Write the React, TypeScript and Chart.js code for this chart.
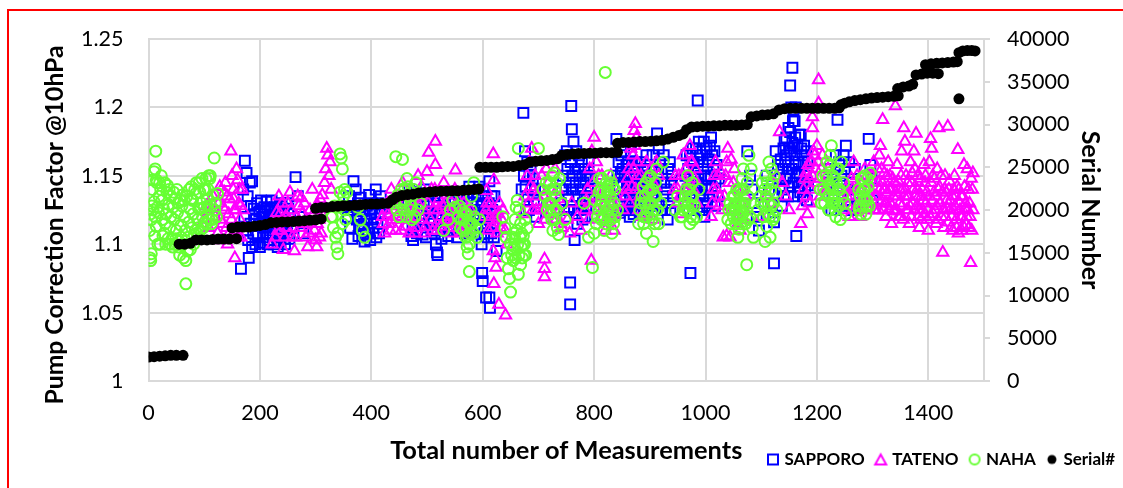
import React, { useEffect, useRef } from "react";
import { Chart, registerables } from "chart.js";

Chart.register(...registerables);

const sapporoPoints: number[][] = [
[166,1.082],[180,1.09],[173,1.161],[176,1.152],[170,1.14],[182,1.145],[186,1.146],[178,1.135],[184,1.128],[190,1.122],[195,1.13],[198,1.115],[188,1.108],[192,1.1],[200,1.098],[204,1.12],[208,1.127],[212,1.131],[216,1.118],[220,1.126],[206,1.105],[210,1.112],[214,1.1],[218,1.108],[224,1.121],[228,1.112],[232,1.098],[236,1.128],[240,1.118],[244,1.104],[248,1.13],[252,1.122],[256,1.112],[264,1.149],[268,1.135],[272,1.12],[278,1.108],
[360,1.135],[364,1.125],[368,1.146],[372,1.14],[376,1.13],[380,1.12],[384,1.11],[388,1.102],[392,1.128],[396,1.136],[400,1.118],[404,1.108],[408,1.14],[412,1.13],[416,1.122],[420,1.115],[390,1.107],[398,1.103],[378,1.114],
[466,1.13],[470,1.12],[474,1.112],[475,1.103],[480,1.138],[484,1.126],[488,1.115],[492,1.107],[496,1.14],[500,1.128],[504,1.118],[508,1.11],[512,1.13],[516,1.1],[519,1.092],[518,1.094],[524,1.122],[528,1.11],[532,1.135],[536,1.126],[540,1.112],[546,1.138],[550,1.13],[556,1.12],[560,1.11],[566,1.135],[570,1.125],[576,1.142],[580,1.13],[584,1.118],[590,1.128],[594,1.142],[598,1.1],[600,1.13],[604,1.12],[608,1.112],[612,1.146],[616,1.135],[599,1.079],[600,1.073],[606,1.061],[612,1.061],[613,1.0535],[620,1.105],[625,1.095],
[670,1.14],[673,1.196],[676,1.168],[680,1.16],[684,1.15],[688,1.14],[692,1.132],[678,1.125],[696,1.12],
[740,1.13],[744,1.15],[748,1.165],[752,1.155],[756,1.145],[759,1.201],[760,1.184],[763,1.175],[757,1.072],[757,1.056],[765,1.103],[768,1.168],[772,1.155],[776,1.14],[780,1.13],[784,1.12],[764,1.125],[770,1.115],[750,1.12],[788,1.15],[792,1.135],
[840,1.177],[844,1.16],[848,1.152],[852,1.145],[856,1.135],[860,1.128],[864,1.12],[868,1.16],[872,1.15],[876,1.14],[880,1.13],[884,1.122],[846,1.123],[858,1.158],[888,1.155],[892,1.145],[896,1.135],[900,1.128],
[905,1.165],[910,1.155],[913,1.181],[916,1.17],[920,1.145],[924,1.135],[928,1.125],[932,1.118],[936,1.16],[940,1.15],
[964,1.15],[968,1.14],[973,1.079],[972,1.165],[976,1.16],[980,1.152],[984,1.144],[986,1.205],[988,1.175],[990,1.136],[994,1.125],[998,1.12],[1002,1.17],[1006,1.162],[1010,1.178],[1014,1.155],[1018,1.145],[1022,1.135],[1000,1.13],[985,1.165],[1005,1.148],
[1075,1.168],[1080,1.15],[1084,1.14],[1088,1.13],[1092,1.12],[1096,1.11],
[1110,1.15],[1114,1.14],[1118,1.13],[1122,1.12],[1123,1.116],[1123,1.086],[1126,1.168],[1130,1.158],[1134,1.148],[1138,1.14],[1142,1.176],[1146,1.165],[1150,1.155],[1152,1.216],[1156,1.229],[1154,1.2],[1158,1.198],[1162,1.2],[1160,1.19],[1163,1.106],[1152,1.182],[1156,1.174],[1160,1.165],[1164,1.152],[1168,1.18],[1172,1.17],[1176,1.16],[1180,1.15],[1184,1.143],[1148,1.135],[1144,1.148],[1170,1.138],[1150,1.17],[1158,1.145],
[1222,1.145],[1228,1.135],[1232,1.125],[1237,1.191],[1240,1.16],[1244,1.15],[1248,1.165],[1252,1.172],[1256,1.14],[1260,1.135],[1264,1.125],[1268,1.155],[1276,1.13],
[1293,1.177],[1296,1.158],[1298,1.148],[1300,1.132]
];

const sapporoDense: number[][] = [
[172,1.12],[175,1.11],[179,1.103],[183,1.115],[186,1.098],[189,1.126],[193,1.118],[196,1.106],[199,1.124],[202,1.132],[205,1.116],[207,1.101],[209,1.122],[211,1.107],[213,1.126],[215,1.113],[217,1.103],[219,1.121],[221,1.132],[223,1.108],[225,1.1],[227,1.127],[229,1.117],[231,1.105],[233,1.124],[235,1.112],[237,1.102],[239,1.13],[241,1.11],[243,1.122],[245,1.1],[247,1.116],[249,1.108],[251,1.126],[253,1.104],
[358,1.12],[362,1.112],[366,1.104],[370,1.128],[374,1.118],[377,1.106],[381,1.134],[385,1.124],[387,1.115],[391,1.118],[394,1.108],[397,1.126],[401,1.13],[403,1.112],[406,1.122],[409,1.105],[411,1.116],[414,1.108],[417,1.135],[419,1.126],
[468,1.14],[472,1.106],[477,1.125],[479,1.115],[482,1.108],[486,1.135],[490,1.125],[494,1.118],[498,1.105],[502,1.136],[506,1.124],[510,1.115],[514,1.108],[520,1.128],[522,1.114],[526,1.104],[530,1.125],[534,1.116],[538,1.106],[542,1.13],[544,1.12],[548,1.11],[552,1.124],[554,1.105],[558,1.135],[562,1.125],[564,1.115],[568,1.108],[572,1.135],[574,1.118],[578,1.108],[582,1.138],[586,1.125],[588,1.112],[592,1.136],[595,1.122],[597,1.112],[601,1.14],[603,1.108],[605,1.135],[607,1.125],[609,1.105],[611,1.13],[613,1.118],[615,1.108],[617,1.125],[619,1.115],[621,1.135],[623,1.122],
[674,1.15],[677,1.142],[681,1.135],[683,1.125],[686,1.158],[690,1.148],[694,1.14],[698,1.13],
[742,1.14],[746,1.125],[749,1.14],[751,1.168],[754,1.135],[755,1.125],[758,1.16],[761,1.15],[762,1.14],[766,1.155],[767,1.145],[769,1.135],[771,1.125],[773,1.165],[774,1.15],[777,1.128],[778,1.16],[779,1.118],[781,1.145],[782,1.155],[783,1.135],[785,1.15],[786,1.128],[789,1.14],[790,1.16],[794,1.148],
[842,1.15],[845,1.142],[847,1.132],[849,1.165],[850,1.125],[851,1.155],[853,1.135],[854,1.168],[855,1.15],[857,1.125],[859,1.145],[861,1.16],[862,1.14],[863,1.15],[865,1.132],[866,1.168],[867,1.145],[869,1.13],[870,1.14],[871,1.122],[873,1.16],[874,1.132],[875,1.15],[877,1.125],[878,1.155],[879,1.14],[881,1.15],[882,1.13],[883,1.16],[885,1.14],[886,1.148],[887,1.13],[889,1.14],[890,1.125],[891,1.155],[893,1.13],[894,1.165],[895,1.145],[897,1.125],[898,1.15],[899,1.14],
[902,1.15],[904,1.135],[906,1.145],[908,1.125],[911,1.14],[912,1.13],[914,1.15],[918,1.16],[921,1.155],[922,1.125],[925,1.165],[926,1.145],[930,1.14],[933,1.155],[934,1.13],[937,1.125],[938,1.145],[942,1.135],
[962,1.135],[966,1.165],[969,1.155],[970,1.125],[974,1.145],[975,1.135],[977,1.17],[978,1.125],[979,1.16],[981,1.14],[982,1.13],[983,1.17],[986,1.155],[987,1.145],[989,1.125],[991,1.165],[992,1.15],[993,1.14],[995,1.16],[996,1.135],[997,1.175],[999,1.15],[1001,1.14],[1003,1.128],[1004,1.16],[1007,1.135],[1008,1.172],[1009,1.15],[1011,1.142],[1012,1.165],[1013,1.135],[1016,1.168],[1017,1.128],[1020,1.158],[1024,1.148],
[1135,1.162],[1137,1.128],[1139,1.155],[1140,1.17],[1141,1.135],[1143,1.16],[1145,1.178],[1147,1.15],[1149,1.185],[1151,1.142],[1153,1.168],[1155,1.155],[1157,1.19],[1159,1.135],[1161,1.178],[1162,1.158],[1165,1.172],[1166,1.142],[1167,1.16],[1169,1.15],[1171,1.18],[1173,1.145],[1174,1.165],[1175,1.135],[1177,1.172],[1178,1.15],[1179,1.14],[1181,1.168],[1182,1.132],[1183,1.16],
[1224,1.155],[1226,1.125],[1230,1.15],[1234,1.165],[1236,1.14],[1238,1.13],[1242,1.145],[1246,1.135],[1250,1.155],[1254,1.128],[1258,1.16],[1262,1.145]
];

const tatenoPoints: number[][] = [
[100,1.118],[104,1.128],[108,1.112],[112,1.126],[116,1.135],[120,1.12],[124,1.108],[126,1.13],[128,1.142],[130,1.118],[132,1.103],[134,1.127],[136,1.138],[138,1.145],[140,1.112],[142,1.1],[144,1.122],[146,1.133],[148,1.168],[150,1.15],[152,1.14],[154,1.125],[155,1.09],[156,1.11],[158,1.155],[160,1.147],[162,1.13],[164,1.118],[166,1.105],[168,1.14],[170,1.125],
[222,1.1],[226,1.115],[230,1.123],[234,1.135],[238,1.11],[242,1.096],[246,1.12],[250,1.13],[254,1.138],[258,1.105],[262,1.095],[266,1.12],[270,1.128],[274,1.134],[278,1.115],[282,1.105],[286,1.098],[290,1.125],[294,1.14],[298,1.11],[302,1.098],[304,1.128],[306,1.118],[310,1.108],[312,1.136],[316,1.145],[318,1.155],[320,1.17],[322,1.165],[324,1.15],[326,1.16],[314,1.12],[328,1.14],[308,1.133],[300,1.103],
[420,1.12],[424,1.108],[428,1.13],[432,1.115],[436,1.14],[440,1.125],[444,1.11],[448,1.135],[452,1.118],[456,1.145],[460,1.13],[464,1.12],[468,1.108],[472,1.14],[476,1.125],[480,1.112],[484,1.15],[488,1.135],[492,1.118],[496,1.108],[500,1.153],[503,1.167],[508,1.14],[512,1.125],[515,1.175],[515,1.158],[518,1.11],[522,1.133],[526,1.12],[530,1.145],[534,1.13],[538,1.115],[542,1.108],[546,1.125],[551,1.154],[550,1.14],[554,1.128],[558,1.118],[562,1.108],[566,1.13],[570,1.12],[574,1.11],[578,1.125],
[604,1.12],[607,1.139],[610,1.11],[614,1.13],[619,1.166],[620,1.147],[622,1.12],[626,1.108],[630,1.13],[619,1.095],[622,1.09],[624,1.083],[620,1.071],[629,1.056],[641,1.048],[634,1.118],[640,1.11],[644,1.1],
[672,1.122],[676,1.135],[680,1.15],[684,1.16],[688,1.17],[692,1.14],[696,1.125],[700,1.115],[711,1.089],[711,1.082],[711,1.076],[704,1.14],[708,1.125],[714,1.155],[718,1.145],[722,1.13],[726,1.118],[730,1.155],[734,1.14],[738,1.125],[742,1.112],
[752,1.118],[756,1.108],[760,1.13],[770,1.12],[776,1.11],[784,1.125],[788,1.14],[792,1.155],[795,1.088],[796,1.168],[800,1.178],[804,1.16],[808,1.15],[812,1.135],[816,1.12],[820,1.11],[824,1.145],[828,1.13],[832,1.12],[836,1.11],[840,1.135],
[852,1.125],[858,1.14],[862,1.155],[866,1.17],[870,1.165],[874,1.188],[872,1.183],[876,1.178],[878,1.15],[882,1.135],[886,1.12],[890,1.145],[894,1.16],[900,1.13],[905,1.118],[910,1.142],[916,1.15],
[944,1.14],[948,1.13],[952,1.15],[956,1.122],[960,1.165],[964,1.155],[968,1.14],[972,1.172],[976,1.16],[980,1.148],[984,1.13],
[1010,1.12],[1014,1.14],[1018,1.16],[1022,1.15],[1026,1.135],[1032,1.105],[1038,1.106],[1044,1.105],[1030,1.125],[1036,1.15],[1040,1.17],[1046,1.162],[1050,1.145],[1054,1.13],[1058,1.115],[1062,1.11],[1066,1.14],[1070,1.125],
[1100,1.12],[1110,1.135],[1120,1.13],[1128,1.15],[1133,1.182],[1138,1.145],[1144,1.135],[1150,1.125],[1171,1.115],[1176,1.14],[1180,1.152],[1183,1.122],[1187,1.13],[1186,1.148],[1190,1.16],[1192,1.193],[1192,1.185],[1194,1.168],[1198,1.155],[1200,1.172],[1203,1.22],[1203,1.203],[1205,1.148],[1210,1.165],[1215,1.135],[1220,1.155],
[1250,1.125],[1254,1.135],[1258,1.12],[1262,1.148],[1266,1.16],[1270,1.14],[1274,1.13],[1278,1.12],[1282,1.145],[1286,1.155],
[1290,1.13],[1294,1.14],[1298,1.15],[1302,1.16],[1304,1.135],[1306,1.125],[1310,1.145],[1312,1.165],[1314,1.172],[1316,1.155],[1318,1.191],[1320,1.14],[1322,1.13],[1324,1.12],[1326,1.15],[1328,1.16],[1330,1.14],[1332,1.13],[1334,1.115],[1336,1.148],[1338,1.124],[1341,1.201],[1342,1.138],[1344,1.158],[1346,1.146],[1348,1.13],[1350,1.12],[1352,1.168],[1354,1.14],[1356,1.185],[1358,1.175],[1360,1.15],[1362,1.135],[1364,1.125],[1366,1.115],[1368,1.16],[1370,1.145],[1372,1.13],[1374,1.168],[1376,1.155],[1378,1.181],[1380,1.14],[1382,1.12],[1384,1.112],[1386,1.148],[1388,1.135],[1390,1.125],[1392,1.158],[1394,1.145],[1396,1.13],[1398,1.118],[1400,1.11],[1402,1.16],[1404,1.177],[1406,1.17],[1408,1.15],[1410,1.138],[1412,1.125],[1414,1.115],[1416,1.155],[1419,1.185],[1420,1.142],[1422,1.13],[1424,1.12],[1426,1.094],[1428,1.112],[1430,1.15],[1432,1.138],[1435,1.186],[1434,1.126],[1436,1.116],[1438,1.146],[1440,1.132],[1442,1.12],[1444,1.11],[1446,1.14],[1448,1.128],[1450,1.118],[1453,1.169],[1452,1.142],[1454,1.108],[1456,1.13],[1458,1.12],[1460,1.11],[1462,1.135],[1464,1.158],[1466,1.126],[1468,1.114],[1470,1.155],[1472,1.14],[1474,1.13],[1476,1.0865],[1475,1.12],[1477,1.148],[1478,1.11],[1480,1.152],[1480,1.125]
];

const tatenoDense: number[][] = [
[133,1.115],[137,1.125],[141,1.135],[145,1.108],[149,1.118],[153,1.133],[157,1.125],[161,1.105],[163,1.14],[165,1.128],
[228,1.105],[232,1.11],[236,1.122],[240,1.13],[244,1.105],[248,1.112],[252,1.118],[256,1.125],[260,1.112],[264,1.105],[268,1.135],[272,1.112],[276,1.122],[280,1.13],[284,1.118],[288,1.108],[292,1.115],[296,1.122],[303,1.115],[307,1.105],
[422,1.115],[426,1.125],[430,1.122],[434,1.11],[438,1.118],[442,1.132],[446,1.12],[450,1.128],[454,1.11],[458,1.122],[462,1.113],[466,1.128],[470,1.118],[474,1.132],[478,1.108],[482,1.12],[486,1.128],[490,1.142],[494,1.125],[498,1.113],[502,1.13],[506,1.118],[510,1.11],[514,1.14],[520,1.125],[524,1.113],[528,1.128],[532,1.118],[536,1.136],[540,1.125],[544,1.115],[548,1.112],[552,1.118],[556,1.132],[560,1.124],[564,1.116],[568,1.11],[572,1.125],[576,1.115],
[606,1.125],[608,1.13],[612,1.118],[616,1.125],[618,1.112],[624,1.116],[628,1.122],[632,1.112],[636,1.125],
[682,1.13],[686,1.142],[690,1.125],[694,1.15],[698,1.135],[702,1.125],[706,1.15],[710,1.135],[712,1.118],[716,1.13],[720,1.122],[724,1.14],[728,1.128],[732,1.118],[736,1.133],[740,1.115],
[786,1.132],[790,1.118],[794,1.13],[798,1.145],[802,1.135],[806,1.125],[810,1.14],[814,1.15],[818,1.128],[822,1.118],[826,1.138],[830,1.15],[834,1.13],[838,1.122],
[856,1.135],[860,1.148],[864,1.13],[868,1.142],[871,1.155],[873,1.172],[875,1.14],[877,1.16],[880,1.125],[884,1.15],[888,1.135],[892,1.122],[896,1.148],[898,1.14],[902,1.155],[906,1.13],[912,1.16],
[946,1.15],[950,1.14],[954,1.135],[958,1.15],[962,1.14],[966,1.13],[970,1.15],[974,1.16],[978,1.14],[982,1.155],
[1012,1.13],[1016,1.15],[1020,1.14],[1024,1.128],[1028,1.152],[1034,1.135],[1038,1.16],[1042,1.145],[1048,1.125],[1052,1.155],[1056,1.14],[1060,1.12],[1064,1.13],[1068,1.118],[1072,1.135],
[1174,1.128],[1178,1.148],[1182,1.135],[1184,1.158],[1188,1.14],[1192,1.15],[1196,1.165],[1199,1.145],[1202,1.16],[1206,1.135],[1208,1.155],[1212,1.145],[1218,1.14],
[1252,1.14],[1256,1.128],[1260,1.135],[1264,1.14],[1268,1.125],[1272,1.15],[1276,1.14],[1280,1.13],
[1292,1.125],[1296,1.135],[1300,1.145],[1303,1.125],[1307,1.135],[1309,1.155],[1311,1.125],[1313,1.14],[1315,1.132],[1317,1.145],[1319,1.125],[1321,1.152],[1323,1.14],[1325,1.13],[1327,1.138],[1329,1.125],[1331,1.15],[1333,1.14],[1335,1.128],[1337,1.135],[1339,1.145],[1343,1.125],[1345,1.135],[1347,1.12],[1349,1.14],[1351,1.15],[1353,1.128],[1355,1.118],[1357,1.135],[1359,1.14],[1361,1.125],[1363,1.145],[1365,1.135],[1367,1.128],[1369,1.12],[1371,1.152],[1373,1.14],[1375,1.125],[1377,1.135],[1379,1.128],[1381,1.15],[1383,1.135],[1385,1.125],[1387,1.118],[1389,1.14],[1391,1.132],[1393,1.122],[1395,1.15],[1397,1.138],[1399,1.125],[1401,1.135],[1403,1.12],[1405,1.145],[1407,1.132],[1409,1.122],[1411,1.148],[1413,1.135],[1415,1.128],[1417,1.118],[1418,1.14],[1421,1.13],[1423,1.15],[1425,1.138],[1427,1.125],[1429,1.14],[1431,1.12],[1433,1.132],[1437,1.14],[1439,1.125],[1441,1.112],[1443,1.135],[1445,1.125],[1447,1.15],[1449,1.135],[1451,1.112],[1455,1.14],[1457,1.125],[1459,1.135],[1461,1.12],[1463,1.113],[1465,1.142],[1467,1.13],[1469,1.12],[1471,1.125],[1473,1.112],[1479,1.14]
];

const nahaPoints: number[][] = [
[3,1.09],[4,1.088],[5,1.093],[2,1.11],[3,1.122],[6,1.128],[5,1.118],[8,1.125],[8,1.147],[10,1.153],[13,1.168],[12,1.155],[14,1.147],[15,1.145],[10,1.131],[12,1.12],[14,1.113],[16,1.127],[18,1.123],[19,1.135],[22,1.14],[24,1.132],[25,1.118],[27,1.126],[28,1.108],[30,1.115],[32,1.122],[33,1.138],[36,1.129],[38,1.112],[40,1.12],[42,1.104],[44,1.127],[46,1.118],[48,1.133],[50,1.11],[52,1.123],[54,1.098],[56,1.092],[58,1.114],[60,1.128],[62,1.1],[64,1.132],[65,1.12],[67,1.088],[67,1.071],[70,1.095],[72,1.116],[74,1.126],[76,1.133],[78,1.112],[80,1.122],[82,1.107],[85,1.137],[88,1.118],[90,1.126],[92,1.138],[95,1.13],[97,1.12],[100,1.127],[102,1.14],[105,1.133],[108,1.15],[110,1.148],[112,1.128],[114,1.118],[116,1.136],[118,1.163],[119,1.125],[120,1.13],[122,1.12],[124,1.137],
[328,1.12],[332,1.112],[336,1.105],[338,1.098],[340,1.093],[342,1.127],[344,1.166],[346,1.163],[348,1.155],[350,1.135],[352,1.125],[354,1.118],[356,1.138],[340,1.108],[346,1.128],[384,1.11],[380,1.118],[388,1.105],[376,1.127],
[440,1.13],[444,1.164],[446,1.125],[450,1.12],[456,1.162],[460,1.14],[464,1.148],[468,1.135],[472,1.128],[448,1.136],[476,1.14],[480,1.145],[484,1.125],[488,1.13],[478,1.12],
[530,1.11],[538,1.118],[542,1.125],[546,1.132],[550,1.127],[556,1.12],[558,1.128],[562,1.118],[565,1.11],[567,1.123],[570,1.105],[572,1.098],[574,1.093],[576,1.1],[578,1.115],[580,1.135],[584,1.145],[576,1.08],
[636,1.12],[640,1.112],[642,1.105],[644,1.09],[646,1.082],[648,1.075],[650,1.065],[654,1.096],[656,1.108],[658,1.118],[660,1.127],[662,1.132],[664,1.17],[666,1.125],[668,1.115],[670,1.108],[672,1.1],[674,1.092],[668,1.085],[664,1.078],[676,1.118],[680,1.112],[658,1.104],[655,1.088],
[700,1.17],[708,1.14],[712,1.135],[716,1.125],[720,1.145],[722,1.13],[724,1.118],[726,1.11],[728,1.152],[730,1.14],[732,1.125],[734,1.112],[736,1.107],[738,1.148],[742,1.13],[748,1.118],
[782,1.13],[790,1.105],[797,1.083],[800,1.108],[804,1.115],[808,1.125],[810,1.148],[812,1.14],[814,1.132],[816,1.12],[818,1.11],[820,1.2256],[822,1.145],[824,1.138],[826,1.15],[828,1.128],[830,1.118],[832,1.108],[834,1.142],[836,1.13],[838,1.12],[842,1.125],
[880,1.115],[884,1.13],[888,1.142],[890,1.12],[892,1.135],[894,1.108],[896,1.125],[898,1.148],[900,1.14],[902,1.13],[904,1.118],[906,1.102],[908,1.135],[910,1.145],[912,1.155],[914,1.125],[916,1.115],[920,1.13],[924,1.16],
[958,1.12],[962,1.13],[966,1.14],[968,1.15],[970,1.125],[972,1.115],[974,1.135],[976,1.145],[978,1.118],[980,1.128],[984,1.12],[988,1.14],
[1040,1.118],[1044,1.13],[1048,1.125],[1050,1.12],[1052,1.135],[1054,1.115],[1056,1.14],[1058,1.105],[1060,1.13],[1062,1.12],[1064,1.14],[1066,1.148],[1068,1.155],[1070,1.128],[1072,1.115],[1074,1.085],[1076,1.135],[1078,1.165],[1080,1.12],[1082,1.155],[1084,1.112],[1086,1.105],[1060,1.111],
[1100,1.13],[1104,1.12],[1106,1.14],[1108,1.15],[1110,1.113],[1112,1.122],[1114,1.16],[1116,1.105],[1118,1.155],[1120,1.145],[1122,1.13],[1124,1.12],[1126,1.138],[1128,1.125],[1107,1.102],
[1208,1.13],[1212,1.14],[1216,1.15],[1218,1.16],[1220,1.135],[1222,1.125],[1224,1.165],[1226,1.172],[1228,1.14],[1230,1.13],[1232,1.148],[1234,1.12],[1236,1.155],[1238,1.14],[1240,1.128],[1242,1.118],[1244,1.16],[1246,1.135],[1248,1.145],[1250,1.13],[1252,1.122],
[1276,1.125],[1278,1.135],[1280,1.148],[1282,1.128],[1284,1.14],[1286,1.15],[1288,1.122],[1290,1.132],[1292,1.142],[1294,1.128],[1296,1.152]
];

const nahaDense: number[][] = [
[7,1.14],[11,1.106],[17,1.1],[20,1.145],[21,1.1],[23,1.15],[26,1.106],[29,1.145],[31,1.1],[34,1.143],[35,1.104],[37,1.14],[39,1.1],[41,1.135],[43,1.098],[45,1.138],[47,1.1],[49,1.104],[51,1.14],[53,1.13],[55,1.102],[57,1.132],[59,1.105],[61,1.136],[63,1.09],[66,1.11],[69,1.135],[71,1.105],[73,1.14],[75,1.096],[77,1.142],[79,1.132],[81,1.1],[83,1.14],[84,1.11],[86,1.145],[87,1.108],[89,1.112],[91,1.145],[93,1.11],[94,1.126],[96,1.148],[98,1.112],[99,1.14],[101,1.116],[103,1.148],[104,1.115],[106,1.128],[107,1.14],[109,1.118],[111,1.15],[113,1.115],
[452,1.13],[454,1.14],[458,1.125],[461,1.132],[463,1.12],[466,1.142],[470,1.125],[473,1.118],[330,1.12],[334,1.128],[344,1.138],[348,1.115],[352,1.14],
[560,1.112],[563,1.125],[566,1.118],[569,1.112],[571,1.122],[573,1.106],[575,1.115],[577,1.108],[579,1.125],[581,1.115],[583,1.108],[585,1.12],[588,1.112],[590,1.105],[594,1.118],
[650,1.1],[652,1.092],[654,1.105],[657,1.098],[659,1.09],[661,1.11],[663,1.1],[665,1.092],[667,1.105],[669,1.098],[671,1.09],[673,1.106],[675,1.1],[677,1.092],
[714,1.145],[718,1.13],[721,1.122],[723,1.14],[725,1.15],[727,1.125],[729,1.118],[731,1.135],[733,1.145],
[802,1.132],[806,1.12],[809,1.138],[811,1.128],[813,1.118],[815,1.148],[817,1.138],[819,1.128],[821,1.115],[823,1.125],[825,1.14],[827,1.12],[829,1.135],[831,1.145],[833,1.125],[835,1.115],[837,1.14],
[882,1.125],[886,1.135],[889,1.115],[891,1.13],[893,1.145],[895,1.12],[897,1.138],[899,1.13],[901,1.15],[903,1.122],[905,1.14],[907,1.125],[909,1.115],[911,1.135],[913,1.125],
[945,1.125],[950,1.135],[955,1.12],[960,1.125],[964,1.135],[967,1.125],[969,1.13],[971,1.14],[973,1.12],[975,1.128],[977,1.135],
[1042,1.125],[1046,1.115],[1049,1.135],[1051,1.128],[1053,1.125],[1055,1.13],[1057,1.118],[1059,1.138],[1061,1.125],[1063,1.115],[1065,1.13],[1067,1.122],[1069,1.14],[1071,1.13],[1073,1.125],[1075,1.145],[1077,1.118],
[1094,1.125],[1098,1.135],[1102,1.145],[1105,1.128],[1109,1.135],[1111,1.145],[1113,1.13],[1115,1.12],[1117,1.14],[1119,1.128],[1121,1.118],[1123,1.15],
[1206,1.14],[1210,1.15],[1214,1.13],[1216,1.138],[1219,1.148],[1221,1.125],[1223,1.158],[1225,1.142],[1227,1.13],[1229,1.15],[1231,1.135],[1233,1.125],[1235,1.145],[1237,1.13],[1239,1.155],[1241,1.14],
[1275,1.14],[1277,1.128],[1279,1.122],[1281,1.138],[1283,1.148],[1285,1.132],[1287,1.14],[1289,1.128],[1291,1.148]
];

const serialPoints: number[][] = [
[0,2800],[10,2850],[20,2900],[30,2950],[40,3000],[50,3000],[62,3000],
[55,16000],[65,16000],[75,16100],[85,16500],[95,16500],[105,16500],[115,16550],[125,16600],[135,16600],[145,16600],[158,16650],
[150,17900],[160,18000],[170,18000],[180,18000],[190,18100],[200,18200],[210,18300],[220,18500],[230,18550],[240,18600],[250,18600],[260,18650],[270,18700],[280,18750],[290,18800],[300,18850],[310,18950],
[300,20200],[310,20300],[320,20300],[330,20400],[340,20450],[350,20500],[360,20500],[370,20550],[380,20600],[390,20650],[400,20700],[410,20700],[420,20750],[430,20800],
[438,21200],[445,21500],[455,21700],[465,21800],[475,21850],[485,22000],[495,22050],[505,22100],[515,22150],[525,22200],[535,22200],[545,22250],[555,22250],[565,22300],[575,22350],[585,22400],[593,22450],
[595,25000],[605,25000],[615,25000],[625,25000],[635,25050],[645,25100],[655,25100],[665,25200],[675,25300],[685,25600],[695,25700],[705,25750],[715,25800],[725,25900],[735,26000],[742,26400],[752,26500],[762,26550],[772,26600],[782,26600],[792,26650],[802,26650],[812,26700],[822,26700],[832,26700],[842,26750],
[842,27800],[852,27900],[862,27900],[872,27950],[882,28000],[892,28000],[902,28050],[912,28100],[922,28150],[932,28300],[942,28500],[952,28700],[960,28900],
[966,29400],[975,29700],[985,29750],[995,29800],[1005,29800],[1015,29850],[1025,29850],[1035,29900],[1045,29900],[1055,29900],[1065,29950],[1075,30000],
[1082,30900],[1092,31000],[1102,31100],[1112,31150],[1122,31250],[1132,31700],[1142,31850],[1152,31900],[1162,31900],[1172,31900],[1182,31900],[1192,31900],[1202,31900],[1212,31900],[1222,31900],[1232,31900],[1240,31950],
[1243,32300],[1250,32500],[1258,32650],[1268,32800],[1278,32900],[1288,33000],[1298,33100],[1308,33150],[1318,33200],[1328,33250],[1338,33300],[1346,33350],
[1345,34200],[1355,34400],[1365,34500],[1372,34700],[1378,35800],[1388,35900],[1398,36000],[1408,36000],[1418,35950],
[1395,37000],[1405,37100],[1415,37150],[1425,37200],[1435,37250],[1445,37300],[1452,37350],
[1455,33000],
[1455,38400],[1462,38600],[1470,38650],[1478,38650],[1484,38600]
];

const xTicks = { min: 0, max: 1500, step: 200 };
const leftTicks = { min: 1, max: 1.25, step: 0.05 };
const rightTicks = { min: 0, max: 40000, step: 5000 };

const toXY = (pts: number[][]) => pts.map(([x, y]) => ({ x, y }));

function legendMark(kind: string, color: string) {
  const c = document.createElement("canvas");
  c.width = 16;
  c.height = 16;
  const g = c.getContext("2d") as CanvasRenderingContext2D;
  g.strokeStyle = color;
  g.fillStyle = color;
  g.lineWidth = 2;
  g.beginPath();
  if (kind === "rect") g.rect(3, 3, 10, 10);
  if (kind === "triangle") {
    g.moveTo(8, 3);
    g.lineTo(13.5, 13);
    g.lineTo(2.5, 13);
    g.closePath();
  }
  if (kind === "circle") g.arc(8, 8, 5, 0, Math.PI * 2);
  if (kind === "dot") {
    g.arc(8, 8, 4.5, 0, Math.PI * 2);
    g.fill();
  } else g.stroke();
  return c;
}

const leftTitle = {
  id: "leftTitle",
  afterDraw(chart: any) {
    const { ctx } = chart;
    ctx.save();
    ctx.translate(55, 225);
    ctx.rotate(-Math.PI / 2);
    ctx.font = "bold 24.7px Lato";
    ctx.fillStyle = "#000";
    ctx.textAlign = "center";
    ctx.textBaseline = "middle";
    ctx.fillText("Pump Correction Factor @10hPa", 0, 0);
    ctx.restore();
  },
};

const moveLegend = {
  id: "moveLegend",
  beforeDraw(chart: any) {
    const l = chart.legend;
    l.left = 757;
    l.right = 1500;
    l.top = 438;
  },
};

const legendMarks = [["rect", "#0000ff"], ["triangle", "#ff00ff"], ["circle", "#66ff33"], ["dot", "#000000"]];

export default function App() {
  const ref = useRef<HTMLCanvasElement | null>(null);
  useEffect(() => {
    const grid = "#d9d9d9";
    const clear = "rgba(0,0,0,0)";
    const chart = new Chart(ref.current as HTMLCanvasElement, {
      type: "scatter",
      data: {
        datasets: [
          { label: "SAPPORO", data: toXY(sapporoPoints.concat(sapporoDense)), order: 3, yAxisID: "y", pointStyle: "rect", pointRadius: 7, pointBorderWidth: 2, pointBorderColor: "#0000ff", pointBackgroundColor: clear, borderColor: "#0000ff", backgroundColor: clear },
          { label: "TATENO", data: toXY(tatenoPoints.concat(tatenoDense)), order: 2, yAxisID: "y", pointStyle: "triangle", pointRadius: 6.5, pointBorderWidth: 2, pointBorderColor: "#ff00ff", pointBackgroundColor: clear, borderColor: "#ff00ff", backgroundColor: clear },
          { label: "NAHA", data: toXY(nahaPoints.concat(nahaDense)), order: 1, yAxisID: "y", pointStyle: "circle", pointRadius: 5.5, pointBorderWidth: 2, pointBorderColor: "#66ff33", pointBackgroundColor: clear, borderColor: "#66ff33", backgroundColor: clear },
          { label: "Serial#", data: toXY(serialPoints), order: 0, yAxisID: "y2", pointStyle: "circle", pointRadius: 5.5, pointBorderWidth: 0, pointBackgroundColor: "#000", borderColor: "#000", backgroundColor: "#000" },
        ],
      },
      options: {
        animation: false,
        responsive: false,
        layout: { padding: { top: 39, left: 0, right: 0, bottom: -41 } },
        plugins: {
          tooltip: { enabled: false },
          legend: {
            display: true,
            position: "bottom",
            align: "start",
            labels: {
              usePointStyle: true,
              boxWidth: 6,
              boxHeight: 6,
              padding: 13,
              color: "#000",
              font: { family: "Lato", weight: "bold", size: 17 },
              generateLabels: (c: any) => {
                const items = Chart.defaults.plugins.legend.labels.generateLabels(c);
                items.sort((a: any, b: any) => a.datasetIndex - b.datasetIndex);
                items.forEach((it: any, i: number) => {
                  it.pointStyle = legendMark(legendMarks[i][0], legendMarks[i][1]);
                });
                return items;
              },
            },
          },
        },
        scales: {
          x: {
            type: "linear",
            position: "bottom",
            min: xTicks.min,
            max: xTicks.max,
            afterFit: (s: any) => { s.height = 108; },
            grid: { color: grid, lineWidth: 2, drawTicks: false },
            border: { color: grid, width: 2 },
            ticks: { stepSize: xTicks.step, includeBounds: false, padding: 19, color: "#000", maxRotation: 0, font: { family: "Lato", size: 21.5 }, callback: (v: any) => String(v) },
            title: { display: true, text: "Total number of Measurements", color: "#000", padding: { top: 0, bottom: 23 }, font: { family: "Lato", weight: "bold", size: 25.4 } },
          },
          y: {
            type: "linear",
            position: "left",
            min: leftTicks.min,
            max: leftTicks.max,
            afterFit: (s: any) => { s.width = 148.5; },
            grid: { color: grid, lineWidth: 2, drawTicks: false },
            border: { color: grid, width: 2 },
            ticks: { stepSize: leftTicks.step, includeBounds: false, padding: 25, color: "#000", font: { family: "Lato", size: 21.5 }, callback: (v: any) => String(Number(Number(v).toFixed(2))) },
          },
          y2: {
            type: "linear",
            position: "right",
            min: rightTicks.min,
            max: rightTicks.max,
            afterFit: (s: any) => { s.width = 139; },
            grid: { display: true, drawOnChartArea: false, drawTicks: true, tickLength: 6, color: grid, lineWidth: 2 },
            border: { color: grid, width: 2 },
            ticks: { stepSize: rightTicks.step, padding: 17, color: "#000", font: { family: "Lato", size: 21.5 }, callback: (v: any) => String(v) },
            title: { display: true, text: "Serial Number", color: "#000", padding: { top: 18, bottom: 0 }, font: { family: "Lato", weight: "bold", size: 25 } },
          },
        },
      } as any,
      plugins: [leftTitle, moveLegend],
    });
    return () => chart.destroy();
  }, []);
  return (
    <div style={{ position: "fixed", left: 0, top: 0, width: 1123, height: 488, background: "#fff", overflow: "hidden" }}>
      <div style={{ position: "absolute", left: 7, top: 9, right: 0, bottom: 0, borderTop: "2px solid #ff0000", borderLeft: "2px solid #ff0000", boxSizing: "border-box" }} />
      <canvas ref={ref} width={1123} height={488} style={{ position: "absolute", left: 0, top: 0, width: 1123, height: 488 }} />
    </div>
  );
}
